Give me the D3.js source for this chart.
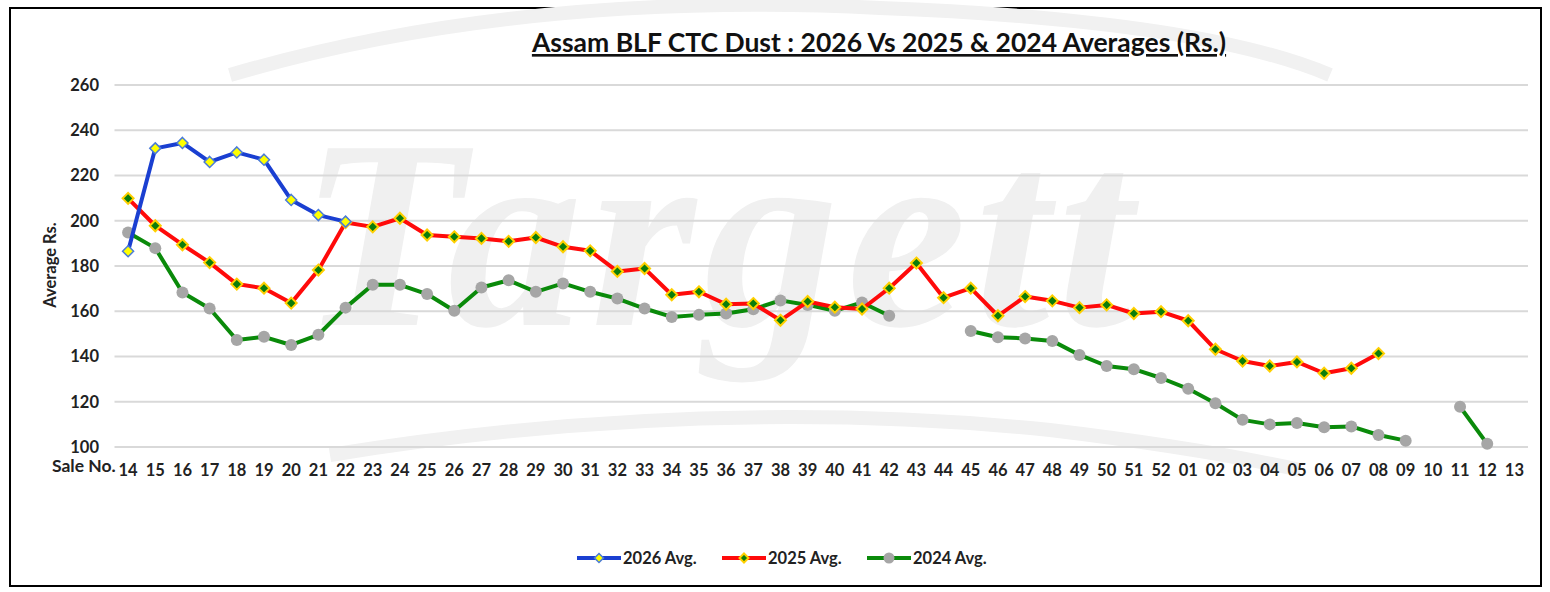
<!DOCTYPE html>
<html><head><meta charset="utf-8">
<script src="https://cdn.jsdelivr.net/npm/d3@7"></script>
<style>body{margin:0;background:#fff;}svg{display:block;}</style>
</head><body><svg id="c" width="1550" height="592"></svg>
<script>
const categories = ["14","15","16","17","18","19","20","21","22","23","24","25","26","27","28","29","30","31","32","33","34","35","36","37","38","39","40","41","42","43","44","45","46","47","48","49","50","51","52","01","02","03","04","05","06","07","08","09","10","11","12","13"];
const avg2026 = [186.5,232,234.4,226,230.2,227,209.2,202.5,199.6];
const avg2025 = [209.9,197.8,189.4,181.5,172,170.2,163.6,178.2,199.2,197.3,201.1,193.7,192.9,192.2,190.9,192.6,188.5,186.7,177.6,178.9,167.3,168.6,163.1,163.4,156,164.3,161.8,161,170.2,181.3,166,170.2,158,166.5,164.6,161.6,162.8,159,159.8,155.8,143.2,138,135.8,137.6,132.6,134.8,141.3];
const avg2024 = [194.8,187.9,168.3,161.2,147.3,148.7,145.1,149.6,161.6,171.7,171.7,167.6,160.2,170.5,173.7,168.6,172.3,168.6,165.6,161.2,157.5,158.4,159,160.9,164.8,162.8,160.2,163.9,158,null,null,151.3,148.5,148,146.9,140.7,135.8,134.4,130.5,125.7,119.3,112,110,110.6,108.7,109.1,105.3,102.8,null,117.8,101.4,null];
const yTicks = [100,120,140,160,180,200,220,240,260];
const seriesNames = ["2026 Avg.","2025 Avg.","2024 Avg."];

const svg = d3.select("#c");
svg.append("rect").attr("x",10).attr("y",8).attr("width",1531).attr("height",578).attr("fill","#fff").attr("stroke","#000").attr("stroke-width",2);

// watermark
const wm = svg.append("g").attr("fill","none").attr("stroke","#f1f1f1").attr("stroke-width",14);
wm.append("path").attr("d","M230,75 Q520,-10 880,8 Q1200,20 1330,75");
wm.append("path").attr("d","M330,455 Q700,395 1050,430 Q1200,448 1300,470");
svg.append("text").attr("x",720).attr("y",325).attr("text-anchor","middle")
  .attr("font-family","Liberation Serif, serif").attr("font-style","italic").attr("font-weight","bold")
  .attr("font-size",270).attr("fill","#f0f0f0").attr("letter-spacing",8).text("Targett");

const x = d3.scaleBand().domain(categories).range([114.5,1528]);
const y = d3.scaleLinear().domain([100,260]).range([447,85]);

svg.append("g").selectAll("line").data(yTicks).join("line")
  .attr("x1",114.5).attr("x2",1528).attr("y1",d=>y(d)).attr("y2",d=>y(d))
  .attr("stroke","#d9d9d9").attr("stroke-width",2);

const font = "Lato, 'Open Sans', sans-serif";
const fs = 16.5;
const yAxis = d3.axisLeft(y).tickValues(yTicks).tickSize(0).tickPadding(0);
const ga = svg.append("g").attr("transform","translate(99,0)").call(yAxis);
ga.select(".domain").remove();
ga.selectAll("text").attr("font-family",font).attr("font-size",fs).attr("font-weight","bold").attr("fill","#222");

const xAxis = d3.axisBottom(x).tickSize(0).tickPadding(0);
const gx = svg.append("g").attr("transform","translate(0,464)").call(xAxis);
gx.select(".domain").remove();
gx.selectAll("text").attr("font-family",font).attr("font-size",fs).attr("font-weight","bold").attr("fill","#222").attr("dy","0.71em");

svg.append("text").attr("x",52).attr("y",472).attr("font-family",font).attr("font-size",17.5).attr("font-weight","bold").attr("fill","#222").text("Sale No.");
svg.append("text").attr("transform","translate(56,265) rotate(-90)").attr("text-anchor","middle")
  .attr("font-family",font).attr("font-size",16.5).attr("font-weight","bold").attr("fill","#222").text("Average Rs.");

svg.append("text").attr("x",879).attr("y",52).attr("text-anchor","middle")
  .attr("font-family",font).attr("font-size",26.5).attr("font-weight","bold").attr("fill","#111")
  .attr("text-decoration","underline").text("Assam BLF CTC Dust : 2026 Vs 2025 & 2024 Averages (Rs.)");

const cx = i => x(categories[i]) + x.bandwidth()/2;
const line = d3.line().defined(d=>d!=null).x((d,i)=>cx(i)).y(d=>y(d));
const diamond = s => `M0,${-s}L${s},0L0,${s}L${-s},0Z`;

function drawSeries(data,color,marker){
  svg.append("path").datum(data).attr("d",line).attr("fill","none").attr("stroke",color).attr("stroke-width",4).attr("stroke-linejoin","round");
  const pts = data.map((v,i)=>({v,i})).filter(d=>d.v!=null);
  const g = svg.append("g");
  pts.forEach(p=>{
    const t = `translate(${cx(p.i)},${y(p.v)})`;
    if(marker==="blue") g.append("path").attr("d",diamond(5.5)).attr("transform",t).attr("fill","#ffff00").attr("stroke","#4a7bd8").attr("stroke-width",1.5);
    else if(marker==="red") g.append("path").attr("d",diamond(5.5)).attr("transform",t).attr("fill","#0a7d0a").attr("stroke","#ffd000").attr("stroke-width",2);
    else g.append("circle").attr("cx",cx(p.i)).attr("cy",y(p.v)).attr("r",6).attr("fill","#a6a6a6");
  });
}
drawSeries(avg2024,"#0a8a0a","grey");
drawSeries(avg2025,"#ff0a0a","red");
drawSeries(avg2026,"#1a3fd1","blue");

const leg = [{n:seriesNames[0],c:"#1a3fd1",m:"blue",x:577},{n:seriesNames[1],c:"#ff0a0a",m:"red",x:722},{n:seriesNames[2],c:"#0a8a0a",m:"grey",x:867}];
leg.forEach(l=>{
  const ly=558;
  svg.append("line").attr("x1",l.x).attr("x2",l.x+44).attr("y1",ly).attr("y2",ly).attr("stroke",l.c).attr("stroke-width",4);
  const mx=l.x+22;
  if(l.m==="blue") svg.append("path").attr("d",diamond(4.5)).attr("transform",`translate(${mx},${ly})`).attr("fill","#ffff00").attr("stroke","#4a7bd8").attr("stroke-width",1.5);
  else if(l.m==="red") svg.append("path").attr("d",diamond(4.5)).attr("transform",`translate(${mx},${ly})`).attr("fill","#0a7d0a").attr("stroke","#ffd000").attr("stroke-width",2);
  else svg.append("circle").attr("cx",mx).attr("cy",ly).attr("r",5.5).attr("fill","#a6a6a6");
  svg.append("text").attr("x",l.x+46).attr("y",ly+5.5).attr("font-family",font).attr("font-size",16.5).attr("font-weight","bold").attr("fill","#222").text(l.n);
});
</script></body></html>
